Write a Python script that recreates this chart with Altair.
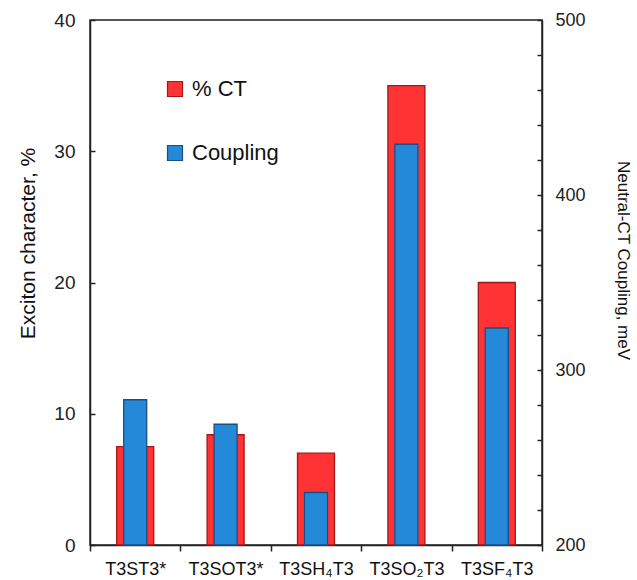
import altair as alt
import pandas as pd

# Compounds and their exciton properties
compounds = ["T3ST3*", "T3SOT3*", "T3SH\u2084T3", "T3SO\u2082T3", "T3SF\u2084T3"]
ct_percent = [7.5, 8.4, 7.0, 35.0, 20.0]          # % CT character (left axis)
coupling_mev = [283, 269, 230, 429, 324]          # neutral-CT coupling, meV (right axis)

FONT = "Liberation Sans"

ct_df = pd.DataFrame({"compound": compounds, "value": ct_percent, "series": "% CT"})
cp_df = pd.DataFrame({"compound": compounds, "value": coupling_mev, "series": "Coupling"})

series_domain = ["% CT", "Coupling"]
fill_scale = alt.Scale(domain=series_domain, range=["#ff3333", "#2389d8"])
stroke_scale = alt.Scale(domain=series_domain, range=["#a01818", "#174f86"])

x_enc = alt.X(
    "compound:N",
    sort=compounds,
    scale=alt.Scale(paddingInner=0, paddingOuter=0),
    axis=alt.Axis(
        title=None,
        labelAngle=0,
        labelFontSize=18,
        labelPadding=9,
        tickBand="extent",
        tickSize=6,
        labelColor="#111",
    ),
)

legend = alt.Legend(
    title=None,
    orient="none",
    legendX=74,
    legendY=58,
    symbolType="square",
    symbolSize=225,
    symbolStrokeWidth=1.2,
    labelFontSize=22,
    labelOffset=6,
    rowPadding=42,
    labelExpr="datum.label == '% CT' ? '\u00a0% CT' : datum.label",
)

ct_bars = (
    alt.Chart(ct_df)
    .mark_bar(size=37, strokeWidth=1.3)
    .encode(
        x=x_enc,
        y=alt.Y(
            "value:Q",
            scale=alt.Scale(domain=[0, 40]),
            axis=alt.Axis(
                title="Exciton character, %",
                values=[0, 10, 20, 30, 40],
                tickSize={"expr": "-5"},
                labelPadding=20,
                labelFontSize=19,
                titleFontSize=21,
                titleX=-62,
                titleY=223,
                titleBaseline="middle",
            ),
        ),
        fill=alt.Fill("series:N", scale=fill_scale, legend=legend),
        stroke=alt.Stroke("series:N", scale=stroke_scale, legend=legend),
    )
)

coupling_bars = (
    alt.Chart(cp_df)
    .mark_bar(size=23, strokeWidth=1.3)
    .encode(
        x=x_enc,
        y=alt.Y(
            "value:Q",
            scale=alt.Scale(domain=[200, 500], zero=False),
            axis=alt.Axis(
                title="Neutral-CT Coupling, meV",
                orient="right",
                values=list(range(200, 501, 20)),
                labelExpr="datum.value % 100 == 0 ? datum.label : ''",
                tickSize={"expr": "-5"},
                labelPadding=18,
                labelFontSize=18,
                titleFontSize=17,
                titleX=80,
                titleY=240,
                titleBaseline="middle",
            ),
        ),
        y2=alt.datum(200),
        fill=alt.Fill("series:N", scale=fill_scale, legend=legend),
        stroke=alt.Stroke("series:N", scale=stroke_scale, legend=legend),
    )
)

chart = (
    alt.layer(ct_bars, coupling_bars)
    .resolve_scale(y="independent")
    .properties(
        width=452,
        height=525,
        autosize=alt.AutoSizeParams(type="none"),
        padding={"left": 90, "top": 20, "right": 95, "bottom": 35},
        background="white",
    )
    .configure_view(stroke="#222", strokeWidth=1.5)
    .configure_axis(
        labelFont=FONT,
        titleFont=FONT,
        titleFontWeight="normal",
        labelColor="#222",
        titleColor="#111",
        domainColor="#222",
        tickColor="#222",
        domainWidth=1.5,
        tickWidth=1.5,
        grid=False,
    )
    .configure_legend(labelFont=FONT, labelColor="#111")
)

chart.save("out.html", embed_options={"renderer": "svg", "actions": False})
